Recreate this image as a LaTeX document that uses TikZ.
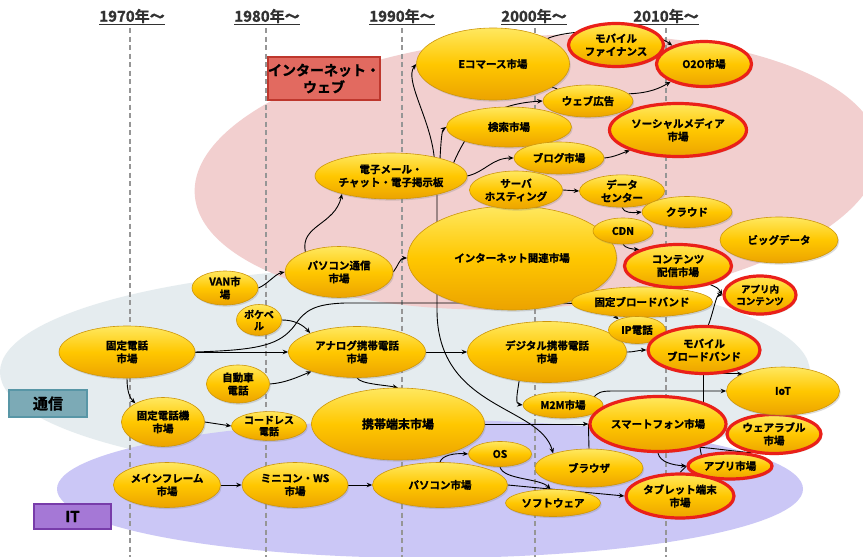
\documentclass[tikz,border=0pt]{standalone}
\usepackage{fontspec}
\setmainfont{Noto Sans CJK JP}[BoldFont={Noto Sans CJK JP Bold}, BoldFeatures={FakeBold=1.2}]
\usetikzlibrary{shapes.geometric,arrows.meta,shadows}
\pgfdeclarelayer{bgfill}
\pgfdeclarelayer{edges}
\pgfsetlayers{bgfill,edges,main}
\definecolor{pinkbg}{RGB}{242,207,207}
\definecolor{greybg}{RGB}{229,236,239}
\definecolor{lavbg}{RGB}{203,199,246}
\definecolor{nodeTop}{RGB}{255,232,95}
\definecolor{nodeMid}{RGB}{255,199,0}
\definecolor{nodeBot}{RGB}{236,163,0}
\definecolor{nodeEdge}{RGB}{205,150,10}
\definecolor{hotred}{RGB}{234,32,25}
\definecolor{webFill}{RGB}{226,106,96}
\definecolor{webEdge}{RGB}{190,55,45}
\definecolor{telFill}{RGB}{124,170,182}
\definecolor{telEdge}{RGB}{88,150,166}
\definecolor{itFill}{RGB}{165,120,214}
\definecolor{itEdge}{RGB}{120,60,170}
\definecolor{dashcol}{RGB}{150,150,150}
\definecolor{headcol}{RGB}{50,50,50}
\tikzset{
  mk/.style={ellipse, draw=nodeEdge, line width=0.6pt, top color=nodeTop, bottom color=nodeBot, middle color=nodeMid, inner sep=0pt, align=center, text=black, font=\bfseries\fontsize{10.5}{13}\selectfont, drop shadow={opacity=0.28, shadow xshift=1.2pt, shadow yshift=-1.6pt}},
  hot/.style={mk, draw=hotred, line width=3.2pt},
  conn/.style={line width=0.9pt, black, -{Stealth[length=5.5pt,width=4.5pt]}},
  connl/.style={line width=0.9pt, black},
  dashv/.style={dashcol, line width=1.1pt, dash pattern=on 5pt off 3.5pt},
  head/.style={text=headcol, font=\bfseries\fontsize{15}{16}\selectfont, inner sep=0pt},
  tag/.style={line width=1.6pt, align=center, text=black, font=\bfseries\fontsize{14}{17}\selectfont, inner sep=0pt},
}
\begin{document}
\begin{tikzpicture}[x=1pt,y=-1pt]
\useasboundingbox (0,0) rectangle (863,557);
\begin{pgfonlayer}{bgfill}
\fill[white] (0,0) rectangle (863,557);
\fill[greybg] (405,372) ellipse [x radius=405, y radius=105];
\fill[lavbg] (430,489) ellipse [x radius=373, y radius=69];
\fill[pinkbg, rotate around={3.8:(537,172)}] (537,172) ellipse [x radius=343, y radius=136];
\foreach \xx in {130,266,402,535,666} {\draw[dashv] (\xx,28) -- (\xx,557);}
\end{pgfonlayer}

\node[head] (h1970) at (132,17) {\underline{1970年〜}};
\node[head] (h1980) at (267,17) {\underline{1980年〜}};
\node[head] (h1990) at (402,17) {\underline{1990年〜}};
\node[head] (h2000) at (534,17) {\underline{2000年〜}};
\node[head] (h2010) at (666,17) {\underline{2010年〜}};

\node[tag, draw=webEdge, fill=webFill, minimum width=112pt, minimum height=43pt] (tweb) at (324,78.5) {インターネット・\\ウェブ};
\node[tag, draw=telEdge, fill=telFill, minimum width=78pt, minimum height=27pt, font=\bfseries\fontsize{15}{17}\selectfont] (ttel) at (48,403.5) {通信};
\node[tag, draw=itEdge, fill=itFill, minimum width=77pt, minimum height=25pt, font=\bfseries\fontsize{15}{17}\selectfont] (tit) at (72.5,516.5) {IT};

\node[mk, minimum width=108pt, minimum height=51pt] (pctel) at (339,272) {パソコン通信\\市場};
\node[mk, minimum width=66pt, minimum height=34pt] (van) at (225,288) {VAN市\\場};
\node[mk, minimum width=45pt, minimum height=31pt, font=\bfseries\fontsize{10}{11.5}\selectfont] (pokebell) at (259,320) {ポケベ\\ル};
\node[mk, minimum width=136pt, minimum height=52pt] (fixtel) at (127,352) {固定電話\\市場};
\node[mk, minimum width=137pt, minimum height=51pt] (analog) at (357,352) {アナログ携帯電話\\市場};
\node[mk, minimum width=63pt, minimum height=38pt] (car) at (238,384) {自動車\\電話};
\node[mk, minimum width=83pt, minimum height=49pt] (fixphone) at (163,422) {固定電話機\\市場};
\node[mk, minimum width=75pt, minimum height=28pt, font=\bfseries\fontsize{10}{11.5}\selectfont] (cordless) at (269,426) {コードレス\\電話};
\node[mk, minimum width=173pt, minimum height=72pt, font=\bfseries\fontsize{12}{14}\selectfont] (mobile) at (398,424) {携帯端末市場};
\node[mk, minimum width=107pt, minimum height=45pt] (mainf) at (167,485) {メインフレーム\\市場};
\node[mk, minimum width=106pt, minimum height=45pt] (mini) at (295,485) {ミニコン・WS\\市場};
\node[mk, minimum width=135pt, minimum height=45pt] (pc) at (440,485) {パソコン市場};
\node[mk, minimum width=63pt, minimum height=25pt] (os) at (500,454) {OS};
\node[mk, minimum width=95pt, minimum height=27pt] (soft) at (553,503) {ソフトウェア};
\node[mk, minimum width=108pt, minimum height=38pt] (browser) at (589,468) {ブラウザ};
\node[mk, minimum width=159pt, minimum height=61pt] (digital) at (547,352) {デジタル携帯電話\\市場};
\node[mk, minimum width=80pt, minimum height=26pt] (m2m) at (563,405) {M2M市場};
\node[mk, minimum width=209pt, minimum height=104pt] (inet) at (512,258) {インターネット関連市場};
\node[mk, minimum width=152pt, minimum height=46pt] (email) at (391,176) {電子メール・\\チャット・電子掲示板};
\node[mk, minimum width=153pt, minimum height=72pt] (ecom) at (493,64) {Eコマース市場};
\node[mk, minimum width=125pt, minimum height=40pt] (search) at (509,127) {検索市場};
\node[mk, minimum width=90pt, minimum height=32pt] (webad) at (588,101) {ウェブ広告};
\node[mk, minimum width=90pt, minimum height=32pt] (blog) at (559,158) {ブログ市場};
\node[mk, minimum width=93pt, minimum height=38pt] (hosting) at (516,190) {サーバ\\ホスティング};
\node[mk, minimum width=85pt, minimum height=32pt] (dc) at (622,191) {データ\\センター};
\node[mk, minimum width=90pt, minimum height=31pt] (cloud) at (687,212) {クラウド};
\node[mk, minimum width=60pt, minimum height=26pt] (cdn) at (623,231) {CDN};
\node[mk, minimum width=118pt, minimum height=46pt] (bigdata) at (779,240) {ビッグデータ};
\node[mk, minimum width=141pt, minimum height=30pt] (fbb) at (642,302) {固定ブロードバンド};
\node[hot, minimum width=107pt, minimum height=43pt] (content) at (678,266) {コンテンツ\\配信市場};
\node[mk, minimum width=57pt, minimum height=27pt] (ip) at (637,330) {IP電話};
\node[hot, minimum width=112pt, minimum height=47pt] (mbb) at (704,350) {モバイル\\ブロードバンド};
\node[hot, minimum width=72pt, minimum height=38pt, font=\bfseries\fontsize{9.5}{12}\selectfont] (appcont) at (760,295) {アプリ内\\コンテンツ};
\node[hot, minimum width=136pt, minimum height=55pt] (smart) at (658,424) {スマートフォン市場};
\node[hot, minimum width=94pt, minimum height=39pt] (wear) at (774,434) {ウェアラブル\\市場};
\node[mk, minimum width=113pt, minimum height=48pt] (iot) at (783,391) {IoT};
\node[hot, minimum width=108pt, minimum height=44pt] (tablet) at (680,496) {タブレット端末\\市場};
\node[hot, minimum width=84pt, minimum height=26pt] (appm) at (730,466) {アプリ市場};
\node[hot, minimum width=95pt, minimum height=43pt] (mfin) at (616,45) {モバイル\\ファイナンス};
\node[hot, minimum width=95pt, minimum height=45pt] (o2o) at (704,64) {O2O市場};
\node[hot, minimum width=137pt, minimum height=53pt] (social) at (678,130) {ソーシャルメディア\\市場};

\begin{pgfonlayer}{edges}
\draw[conn] (fixtel) -- (analog);
\draw[conn] (fixtel.east) .. controls (260,350) and (280,345) .. (295,325) .. controls (305,310) and (315,304) .. (345,303) -- (550,303) .. controls (590,303) and (605,307) .. (ip.150);
\draw[conn] (pokebell.east) .. controls (295,320) and (303,325) .. (analog.158);
\draw[conn] (car.east) .. controls (285,383) and (298,377) .. (analog.203);
\draw[conn] (fixtel.south) .. controls (127,392) and (130,398) .. (fixphone.146);
\draw[conn] (fixphone.east) -- (cordless.west);
\draw[conn] (mainf) -- (mini);
\draw[conn] (mini) -- (pc);
\draw[conn] (van.east) .. controls (268,284) and (275,274) .. (pctel.west);
\draw[conn] (pctel.149) .. controls (300,225) and (335,225) .. (email.200);
\draw[conn] (pctel.east) .. controls (398,266) and (400,258) .. (inet.west);
\draw[conn] (analog) -- (digital);
\draw[conn] (analog.south) .. controls (360,384) and (385,385) .. (mobile.north);
\draw[conn] (digital.east) .. controls (636,352) and (638,350) .. (mbb.west);
\draw[conn] (digital.226) .. controls (517,395) and (515,404) .. (m2m.west);
\draw[conn] (m2m.15) .. controls (598,393) and (600,391) .. (612,391) -- (iot.west);
\draw[conn] (smart.26) |- (iot.157);
\draw[conn] (mbb.80) .. controls (714,310) and (716,295) .. (appcont.west);
\draw[conn] (content.330) .. controls (718,288) .. (appcont.west);
\draw[conn] (cdn.south) .. controls (625,248) and (632,249) .. (content.157);
\draw[conn] (hosting.east) -- (dc.west);
\draw[conn] (dc.south) .. controls (624,213) and (632,213) .. (cloud.west);
\draw[conn] (email.24) .. controls (430,118) and (404,80) .. (ecom.west);
\draw[conn] (email.20) .. controls (441,140) and (442,130) .. (search.west);
\draw[conn] (email.12) .. controls (470,125) and (490,104) .. (webad.west);
\draw[connl] (ecom) -- (webad);
\draw[conn] (email.east) .. controls (485,172) and (492,158) .. (blog.west);
\draw[conn] (webad.10) .. controls (650,93) and (660,88) .. (o2o.208);
\draw[conn] (blog.east) .. controls (615,157) and (622,153) .. (social.203);
\draw[conn] (ecom.25) .. controls (570,28) and (650,28) .. (o2o.150);
\draw[conn] (pc.north) .. controls (442,455) and (455,453) .. (os.west);
\draw[conn] (os.south) .. controls (503,480) and (540,478) .. (soft.100);
\draw[conn] (pc.east) -- (tablet.west);
\draw[conn] (mobile) -- (smart);
\draw[connl] (browser.north) -- (smart.west);
\draw[conn] (email.338) -- (437,310) .. controls (437,410) and (540,405) .. (browser.158);
\draw[conn] (smart.south) .. controls (660,462) and (672,465) .. (appm.west);
\draw[connl] (tablet.north) -- (appm.west);
\draw[connl] (smart.331) .. controls (720,449) and (740,452) .. (wear.220);
\draw[connl] (smart.331) -- (appm.159);
\end{pgfonlayer}
\end{tikzpicture}
\end{document}
